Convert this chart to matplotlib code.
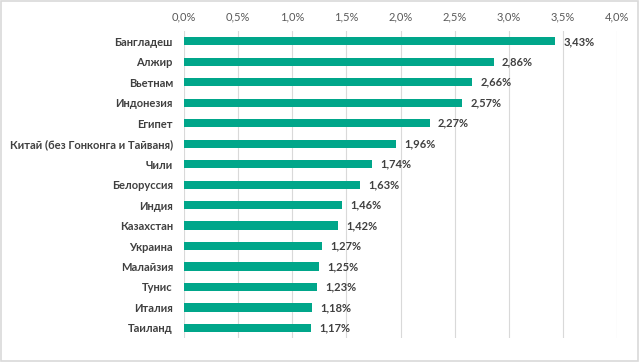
import matplotlib
matplotlib.use("Agg")
import matplotlib.pyplot as plt
from matplotlib.patches import Rectangle

categories = ["Бангладеш", "Алжир", "Вьетнам", "Индонезия", "Египет",
              "Китай (без Гонконга и Тайваня)", "Чили", "Белоруссия", "Индия",
              "Казахстан", "Украина", "Малайзия", "Тунис", "Италия", "Таиланд"]
values = [3.43, 2.86, 2.66, 2.57, 2.27, 1.96, 1.74, 1.63, 1.46, 1.42,
          1.27, 1.25, 1.23, 1.18, 1.17]
ticks = [0.0, 0.5, 1.0, 1.5, 2.0, 2.5, 3.0, 3.5, 4.0]

plt.rcParams['font.family'] = ['Lato', 'DejaVu Sans']

fig = plt.figure(figsize=(6.39, 3.62), dpi=100)
fig.patches.append(Rectangle((0.001, 0.004), 0.997, 0.994, transform=fig.transFigure,
                             fill=False, edgecolor="#D9D9D9", linewidth=1.2))
ax = fig.add_axes([0.288, 0.066, 0.6776, 0.848])

y = list(range(len(categories)))
ax.barh(y, values, height=0.4, color="#00A68A", zorder=3)
ax.set_xlim(0, 4.0)
ax.set_ylim(len(categories) - 0.5, -0.5)
ax.set_xticks(ticks)
ax.set_xticklabels([f"{t:.1f}%".replace(".", ",") for t in ticks])
ax.xaxis.tick_top()
ax.tick_params(axis='x', length=0, pad=6, labelsize=8, labelcolor="#595959")
ax.set_yticks(y)
ax.set_yticklabels(categories, fontweight='bold', fontsize=8, color="#404040")
ax.tick_params(axis='y', length=0, pad=8)
ax.grid(axis='x', color="#D9D9D9", linewidth=0.8, zorder=0)
for s in ax.spines.values():
    s.set_visible(False)
for yi, v in zip(y, values):
    ax.annotate(f"{v:.2f}%".replace(".", ","), (v, yi), xytext=(6, 0),
                textcoords="offset points", va="center", ha="left",
                fontsize=8, fontweight='bold', color="#404040")

fig.savefig("out.png", dpi=100)
